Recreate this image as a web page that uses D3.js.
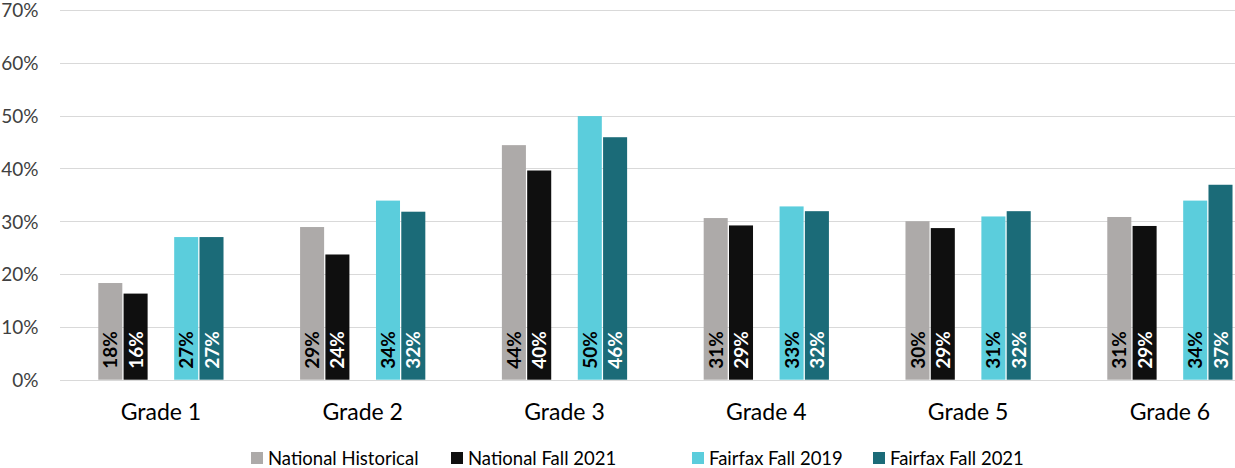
<!DOCTYPE html>
<html>
<head>
<meta charset="utf-8">
<script src="https://cdn.jsdelivr.net/npm/d3@7"></script>
<style>
  html, body { margin: 0; padding: 0; background: #fff; }
  svg { display: block; font-family: Lato, "Open Sans", sans-serif; }
</style>
</head>
<body>
<svg id="chart" width="1235" height="468"></svg>
<script>
// ---- data ----
const grades = ["Grade 1", "Grade 2", "Grade 3", "Grade 4", "Grade 5", "Grade 6"];
const seriesNames = ["National Historical", "National Fall 2021", "", "Fairfax Fall 2019", "Fairfax Fall 2021"];
const nationalHistorical = [0.183, 0.289, 0.444, 0.306, 0.300, 0.308];
const nationalFall2021   = [0.163, 0.237, 0.396, 0.292, 0.287, 0.291];
const blankSeries        = [null, null, null, null, null, null];
const fairfaxFall2019    = [0.270, 0.339, 0.499, 0.328, 0.309, 0.339];
const fairfaxFall2021    = [0.270, 0.318, 0.459, 0.319, 0.319, 0.369];
const yTicks = [0, 0.1, 0.2, 0.3, 0.4, 0.5, 0.6, 0.7];

const seriesValues = [nationalHistorical, nationalFall2021, blankSeries, fairfaxFall2019, fairfaxFall2021];
const colors = ["#ADAAA9", "#0F0F0F", "none", "#5BCDDC", "#1B6B78"];
const labelColors = ["#000", "#fff", "none", "#000", "#fff"];

// ---- layout ----
const svg = d3.select("#chart");
const plotLeft = 60, groupStep = 201.8;
const plotRight = plotLeft + groupStep * grades.length;
const y0 = 379.7, yTop = 9.9;

const x = d3.scaleBand().domain(grades).range([plotLeft, plotRight]).paddingInner(0).paddingOuter(0);
const innerWidth = 126.5;
const xi = d3.scaleBand().domain(d3.range(seriesNames.length))
  .range([(groupStep - innerWidth) / 2, (groupStep + innerWidth) / 2]).paddingInner(0.05).paddingOuter(0.025);
const y = d3.scaleLinear().domain([0, 0.7]).range([y0, yTop]);

// gridlines
svg.append("g").selectAll("line").data(yTicks).join("line")
  .attr("x1", plotLeft).attr("x2", 1235)
  .attr("y1", d => Math.round(y(d)) + 0.5).attr("y2", d => Math.round(y(d)) + 0.5)
  .attr("stroke", "#D9D9D9").attr("stroke-width", 1);

// y axis labels
const yAxis = d3.axisLeft(y).tickValues(yTicks).tickFormat(d3.format(".0%")).tickSize(0).tickPadding(0);
const gy = svg.append("g").attr("transform", `translate(38.5,0)`).call(yAxis);
gy.select(".domain").remove();
gy.selectAll("text").attr("font-size", 19).attr("fill", "#404040")
  .attr("font-family", "Lato, sans-serif").attr("dy", "0.36em");

// x axis labels
const xAxis = d3.axisBottom(x).tickSize(0).tickPadding(0);
const gx = svg.append("g").attr("transform", `translate(0,404)`).call(xAxis);
gx.select(".domain").remove();
gx.selectAll("text").attr("font-size", 23).attr("fill", "#000").attr("font-family", "Lato, sans-serif");

// bars
const fmt = d3.format(".0%");
const groups = svg.append("g").selectAll("g").data(grades).join("g")
  .attr("transform", d => `translate(${x(d)},0)`);

seriesValues.forEach((vals, si) => {
  if (colors[si] === "none") return;
  groups.append("rect")
    .attr("x", xi(si)).attr("width", xi.bandwidth())
    .attr("y", (d, gi) => y(vals[gi]))
    .attr("height", (d, gi) => y0 - y(vals[gi]))
    .attr("fill", colors[si]);
  groups.append("text")
    .attr("transform", (d, gi) => `translate(${xi(si) + xi.bandwidth() / 2 + 7},${y0 - 11}) rotate(-90)`)
    .attr("text-anchor", "start")
    .attr("font-size", 19).attr("font-weight", "bold")
    .attr("fill", labelColors[si])
    .text((d, gi) => fmt(vals[gi]));
});

// legend
const legendX = [251, 451, null, 692, 873];
const lg = svg.append("g");
seriesNames.forEach((name, i) => {
  if (!name) return;
  const g = lg.append("g").attr("transform", `translate(${legendX[i]},0)`);
  g.append("rect").attr("x", 0).attr("y", 452).attr("width", 12).attr("height", 12).attr("fill", colors[i]);
  g.append("text").attr("x", 17).attr("y", 465).attr("font-size", 18.5).attr("fill", "#000").text(name);
});
</script>
</body>
</html>
